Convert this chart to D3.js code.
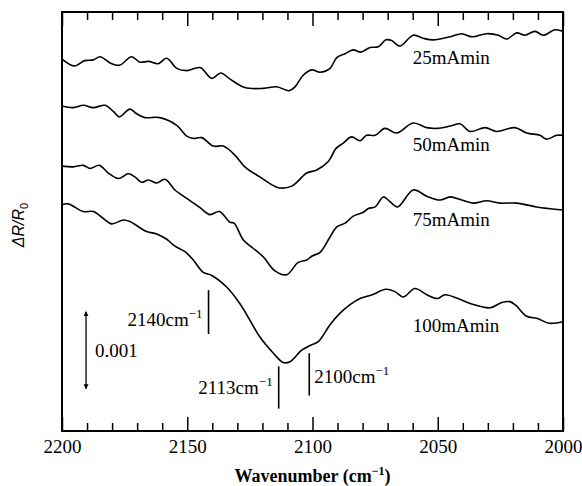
<!DOCTYPE html>
<html>
<head>
<meta charset="utf-8">
<script src="https://cdn.jsdelivr.net/npm/d3@7"></script>
<style>
  body { margin: 0; background: #fff; }
  svg { display: block; font-family: "Liberation Serif", "Times New Roman", serif; }
</style>
</head>
<body>
<div id="chart-area"></div>
<script>
// spectra, dR/R0 in units of 1e-3, each trace already offset in the original figure
const wn25 = [2200,2195,2191,2187.5,2184.8,2180.8,2177.1,2172.2,2168.9,2165.5,2161.6,2158.2,2154.2,2150.2,2144.9,2140.2,2136.6,2132.9,2127,2119.6,2114.3,2109.3,2107,2103.7,2100.3,2097,2093,2090.3,2087,2083.7,2080.8,2077,2073.7,2070.7,2068.4,2065.1,2059.8,2055.8,2051.8,2045.1,2040.4,2036.4,2030.5,2025.8,2022.5,2018.5,2015.2,2011.2,2007.9,2003.2,2000];
const r25 = [4.83,4.74,4.81,4.82,4.86,4.78,4.75,4.86,4.79,4.80,4.77,4.84,4.71,4.68,4.72,4.58,4.65,4.57,4.46,4.45,4.47,4.42,4.47,4.62,4.69,4.66,4.71,4.85,4.90,4.95,4.92,4.98,4.99,5.08,5.07,5.00,5.14,5.10,5.08,5.12,5.16,5.12,5.16,5.14,5.09,5.17,5.14,5.19,5.14,5.21,5.19];

const wn50 = [2200,2195.5,2191.5,2187.5,2182.8,2179.5,2177.1,2172.9,2170.2,2166.9,2160.9,2154.2,2150.2,2147.6,2144.2,2139.6,2135.6,2130.9,2127,2121,2113.7,2108.3,2102.3,2098.3,2093.7,2090.6,2087.7,2084.4,2081,2078.4,2075,2071.1,2066.4,2059.8,2054.4,2050.4,2045.1,2041.1,2037.1,2031.1,2026.5,2019.2,2014.5,2009.2,2006.5,2002.5,2000];
const r50 = [4.22,4.20,4.23,4.20,4.23,4.15,4.08,4.18,4.12,4.07,4.07,3.97,3.83,3.80,3.81,3.70,3.70,3.58,3.43,3.30,3.16,3.18,3.35,3.39,3.50,3.67,3.74,3.82,3.77,3.84,3.84,3.93,3.87,4.00,3.94,3.93,3.96,3.99,3.89,3.94,3.89,3.94,3.87,3.84,3.79,3.84,3.84];

const wn75 = [2200,2195.5,2191.5,2188.8,2185.1,2181.5,2177.5,2173.5,2170.9,2168.2,2165.5,2162.2,2158.9,2154.9,2150.2,2144.9,2140.9,2137.2,2132.9,2131.3,2127.6,2123.6,2119.6,2115,2110.3,2105.7,2102.3,2100.3,2097,2093,2090.3,2087,2083.7,2079.7,2077.7,2075,2071.7,2069.1,2066,2059.8,2054.4,2049.1,2045.1,2040.4,2035.8,2030.5,2025.1,2018.5,2010.5,2005.9,2000];
const r75 = [3.44,3.43,3.45,3.41,3.45,3.35,3.28,3.34,3.30,3.23,3.26,3.22,3.27,3.13,3.02,2.90,2.81,2.85,2.71,2.70,2.48,2.37,2.26,2.08,2.03,2.19,2.22,2.27,2.32,2.52,2.65,2.70,2.79,2.84,2.89,2.91,3.04,2.98,2.91,3.13,3.05,3.00,3.04,3.00,2.96,2.99,2.96,2.96,2.91,2.89,2.87];

const wn100 = [2200,2197.5,2191.5,2187.5,2183.5,2180.2,2175.5,2172.9,2166.2,2162.2,2158.2,2154.9,2150.9,2147.6,2143.6,2140.2,2134.3,2128.9,2125,2121,2115.6,2111.7,2109,2104.3,2101,2097.7,2093,2089,2085,2081,2076.2,2070.7,2067.1,2063.8,2059.1,2054.4,2050.1,2047.1,2041.9,2036.5,2029.1,2024.4,2021.2,2018.8,2014.5,2010.2,2005.6,2000];
const r100 = [2.94,2.95,2.85,2.85,2.76,2.69,2.74,2.72,2.59,2.56,2.49,2.40,2.33,2.22,2.06,2.02,1.87,1.65,1.44,1.22,1.01,0.89,0.90,1.05,1.11,1.16,1.38,1.53,1.64,1.72,1.77,1.84,1.81,1.74,1.85,1.77,1.72,1.77,1.72,1.65,1.60,1.67,1.68,1.63,1.49,1.46,1.40,1.42];

const seriesNames = ["25mAmin", "50mAmin", "75mAmin", "100mAmin"];
const labelY = [4.76, 3.63, 2.66, 1.29];   // where each name sits
const labelWn = 2060;

const majorTicks = [2200, 2150, 2100, 2050, 2000];
const minorTicks = d3.range(2190, 2000, -10).filter(d => d % 50 != 0);

// peak markers: label, position, vertical extent
const peaks = [
  {text: "2140", wn: 2141.5, lo: 1.26, hi: 1.83, side: "left",  base: 1.36},
  {text: "2113", wn: 2113.5, lo: 0.29, hi: 0.84, side: "left",  base: 0.48},
  {text: "2100", wn: 2101.3, lo: 0.46, hi: 1.01, side: "right", base: 0.62}
];
const scaleBar = {wn: 2190.4, lo: 0.55, hi: 1.55, text: "0.001", textWn: 2186.8, textY: 0.965};

let svg = d3.select("#chart-area").append("svg")
  .attr("width", 582)
  .attr("height", 486);

let x = d3.scaleLinear().domain([2200, 2000]).range([62, 563]);
let y = d3.scaleLinear().domain([0, 419 / 77]).range([431, 12]);

let data = [
  d3.zip(wn25, r25),
  d3.zip(wn50, r50),
  d3.zip(wn75, r75),
  d3.zip(wn100, r100)
];

let line = d3.line()
  .x(d => x(d[0]))
  .y(d => y(d[1]))
  .curve(d3.curveCatmullRom.alpha(0.5));

svg.selectAll("path.trace").data(data).enter()
  .append("path")
  .attr("class", "trace")
  .attr("d", line)
  .attr("fill", "none")
  .attr("stroke", "#000")
  .attr("stroke-width", 1.6)
  .attr("stroke-linejoin", "round");

// axes: minor and major ticks both top and bottom, pointing inwards
function tickAxis(axis, vals, size, labels) {
  return axis.tickValues(vals).tickSizeInner(size).tickSizeOuter(0).tickPadding(9)
    .tickFormat(labels ? d3.format("d") : "");
}
let gB = svg.append("g").attr("transform", "translate(0,431)");
gB.call(tickAxis(d3.axisBottom(x), minorTicks, -8, false));
let gB2 = svg.append("g").attr("transform", "translate(0,431)");
gB2.call(tickAxis(d3.axisBottom(x), majorTicks, -14, true));
let gT = svg.append("g").attr("transform", "translate(0,12)");
gT.call(tickAxis(d3.axisTop(x), minorTicks, -8, false));
let gT2 = svg.append("g").attr("transform", "translate(0,12)");
gT2.call(tickAxis(d3.axisTop(x), majorTicks, -14, false));

svg.selectAll(".domain").remove();
svg.selectAll(".tick line").attr("stroke", "#000").attr("stroke-width", 1.5);
gB2.selectAll(".tick text")
  .attr("font-family", "Liberation Serif")
  .attr("font-size", 19)
  .attr("fill", "#000");

svg.append("rect")
  .attr("x", x(2200)).attr("y", y.range()[1])
  .attr("width", x(2000) - x(2200))
  .attr("height", y.range()[0] - y.range()[1])
  .attr("fill", "none")
  .attr("stroke", "#000")
  .attr("stroke-width", 2);

// series names
svg.selectAll("text.name").data(seriesNames).enter()
  .append("text")
  .attr("class", "name")
  .attr("x", x(labelWn))
  .attr("y", (d, i) => y(labelY[i]))
  .attr("font-size", 19)
  .text(d => d);

// peak markers
peaks.forEach(p => {
  svg.append("line")
    .attr("x1", x(p.wn)).attr("x2", x(p.wn))
    .attr("y1", y(p.hi)).attr("y2", y(p.lo))
    .attr("stroke", "#000").attr("stroke-width", 1.6);
  let t = svg.append("text")
    .attr("x", p.side == "left" ? x(p.wn) - 6 : x(p.wn) + 5)
    .attr("y", y(p.base))
    .attr("text-anchor", p.side == "left" ? "end" : "start")
    .attr("font-size", 19);
  t.append("tspan").text(p.text + "cm");
  t.append("tspan").attr("font-size", 13).attr("dy", -8).text("\u22121");
});

// 0.001 scale bar with double arrow
let defs = svg.append("defs");
defs.append("marker")
  .attr("id", "arr")
  .attr("viewBox", "0 0 10 10")
  .attr("refX", 9).attr("refY", 5)
  .attr("markerWidth", 5).attr("markerHeight", 7)
  .attr("markerUnits", "userSpaceOnUse")
  .attr("orient", "auto-start-reverse")
  .append("path").attr("d", "M0,0L10,5L0,10z").attr("fill", "#000");

svg.append("line")
  .attr("x1", x(scaleBar.wn)).attr("x2", x(scaleBar.wn))
  .attr("y1", y(scaleBar.hi)).attr("y2", y(scaleBar.lo))
  .attr("stroke", "#000").attr("stroke-width", 1.3)
  .attr("marker-start", "url(#arr)")
  .attr("marker-end", "url(#arr)");
svg.append("text")
  .attr("x", x(scaleBar.textWn))
  .attr("y", y(scaleBar.textY))
  .attr("font-size", 19)
  .text(scaleBar.text);

// axis titles
let xt = svg.append("text")
  .attr("x", (x(2200) + x(2000)) / 2)
  .attr("y", 482)
  .attr("text-anchor", "middle")
  .attr("font-size", 18)
  .attr("font-weight", "bold");
xt.append("tspan").text("Wavenumber (cm");
xt.append("tspan").attr("font-size", 12).attr("dy", -7).text("\u22121");
xt.append("tspan").attr("dy", 7).text(")");

let yt = svg.append("text")
  .attr("transform", "translate(24,225) rotate(-90)")
  .attr("text-anchor", "middle")
  .attr("font-family", "Liberation Sans")
  .attr("font-size", 16);
yt.append("tspan").attr("font-style", "italic").text("\u0394R/R");
yt.append("tspan").attr("font-size", 11).attr("dy", 4).text("0");
</script>
</body>
</html>
